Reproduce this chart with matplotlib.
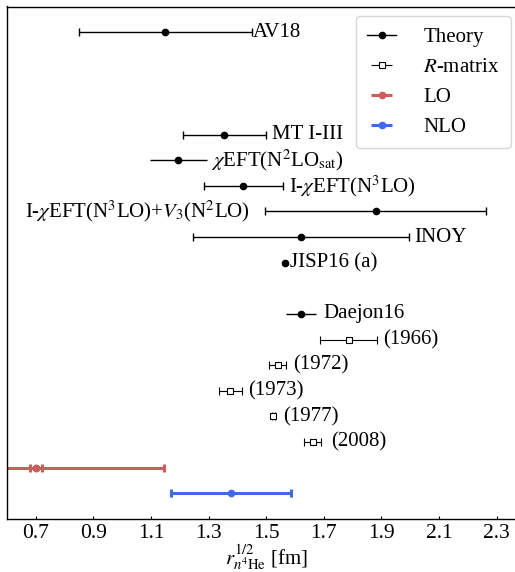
#!/usr/bin/env python3
"""Point-neutron radius of 4He: theory, R-matrix and EFT results."""

import matplotlib as mpl
import matplotlib.pyplot as plt
from matplotlib.lines import Line2D

# theory values with capped error bars
theory_labels = ["AV18", "MT I-III", r"I-$\chi$EFT(N$^3$LO)",
                 r"I-$\chi$EFT(N$^3$LO)+$V_3$(N$^2$LO)", "INOY"]
theory_rows = [0, 4, 6, 7, 8]
theory_vals = [1.15, 1.355, 1.42, 1.88, 1.62]
theory_errs = [0.30, 0.145, 0.137, 0.385, 0.375]
theory_text_x = [1.452, 1.522, 1.578, 1.443, 2.016]
theory_ha = ["left", "left", "left", "right", "left"]

# theory values drawn without caps
plain_labels = [r"$\chi$EFT(N$^2$LO$_{\rm sat}$)", "Daejon16"]
plain_rows = [5, 11]
plain_vals = [1.195, 1.62]
plain_errs = [0.098, 0.052]
plain_text_x = [1.307, 1.70]

# single point, no error
jisp_label = "JISP16 (a)"
jisp_row = 9
jisp_val = 1.565
jisp_text_x = 1.584

# R-matrix analyses
rmat_labels = ["(1966)", "(1972)", "(1973)", "(1977)", "(2008)"]
rmat_rows = [12, 13, 14, 15, 16]
rmat_vals = [1.787, 1.54, 1.376, 1.525, 1.661]
rmat_errs = [0.099, 0.029, 0.040, 0.004, 0.030]
rmat_text_x = [1.905, 1.592, 1.436, 1.558, 1.724]

# pionless EFT
lo_row, lo_val = 17, 0.70
lo_err_small = 0.021
lo_err_low, lo_err_high = 0.25, 0.445
nlo_row, nlo_val = 18, 1.378
nlo_err = 0.21

LO_COLOR = "#CD5C5C"
NLO_COLOR = "#4169E1"


def configure() -> None:
    mpl.rcParams.update({
        "font.family": "serif",
        "font.serif": ["Liberation Serif", "DejaVu Serif"],
        "mathtext.fontset": "stix",
        "font.size": 15,
        "xtick.direction": "in",
        "xtick.labelsize": 15.5,
        "xtick.major.size": 2,
        "axes.linewidth": 1.0,
    })


def main() -> None:
    configure()
    fig = plt.figure(figsize=(5.15, 5.72), dpi=100)
    ax = fig.add_axes([7 / 515, 1 - 519 / 572, 1.02 - 7 / 515, 512.5 / 572])

    ax.errorbar(theory_vals, theory_rows, xerr=theory_errs, fmt="o", color="black",
                ms=4.5, lw=1.0, elinewidth=1.0, capsize=3, capthick=1.0)
    ax.errorbar(plain_vals, plain_rows, xerr=plain_errs, fmt="o", color="black",
                ms=4.5, lw=1.0, elinewidth=1.0, capsize=0)
    ax.plot([jisp_val], [jisp_row], "o", color="black", ms=4.5)
    ax.errorbar(rmat_vals, rmat_rows, xerr=rmat_errs, fmt="s", color="black",
                mfc="white", ms=4.5, mew=0.8, elinewidth=0.8, capsize=3, capthick=0.8)

    ax.errorbar([lo_val], [lo_row], xerr=[[lo_err_low], [lo_err_high]], fmt="o",
                color=LO_COLOR, ms=4.5, elinewidth=2.2, capsize=3, capthick=2.2)
    ax.errorbar([lo_val], [lo_row], xerr=lo_err_small, fmt="o",
                color=LO_COLOR, ms=4.5, elinewidth=2.2, capsize=3, capthick=2.2)
    ax.errorbar([nlo_val], [nlo_row], xerr=nlo_err, fmt="o",
                color=NLO_COLOR, ms=4.5, elinewidth=2.2, capsize=3, capthick=2.2)

    for lab, row, x, ha in zip(theory_labels, theory_rows, theory_text_x, theory_ha):
        ax.text(x, row, lab, ha=ha, va="center")
    for lab, row, x in zip(plain_labels, plain_rows, plain_text_x):
        ax.text(x, row, lab, ha="left", va="center")
    ax.text(jisp_text_x, jisp_row, jisp_label, ha="left", va="center")
    for lab, row, x in zip(rmat_labels, rmat_rows, rmat_text_x):
        ax.text(x, row, lab, ha="left", va="center")

    handles = [
        Line2D([], [], color="black", marker="o", ms=4.5, lw=1.0),
        ax.errorbar([], [], xerr=[], fmt="s", color="black", mfc="white", ms=4.5,
                    mew=0.8, elinewidth=0.8, capsize=3, capthick=0.8),
        ax.errorbar([], [], xerr=[], fmt="o", color=LO_COLOR, ms=4.5,
                    elinewidth=2.2, capsize=3, capthick=2.2),
        ax.errorbar([], [], xerr=[], fmt="o", color=NLO_COLOR, ms=4.5,
                    elinewidth=2.2, capsize=3, capthick=2.2),
    ]
    ax.legend(handles, ["Theory", r"$R$-matrix", "LO", "NLO"],
              loc="upper right", bbox_to_anchor=(511 / 515, 1 - 16 / 572),
              bbox_transform=fig.transFigure, borderaxespad=0,
              handlelength=1.4, handletextpad=1.3, borderpad=0.55)

    ax.set_xlim(0.6, 2.4)
    ax.set_ylim(19, -1)
    ax.set_xticks([0.7, 0.9, 1.1, 1.3, 1.5, 1.7, 1.9, 2.1, 2.3])
    ax.set_yticks([])
    ax.set_xlabel(r"$r_{n^4\mathrm{He}}^{1/2}$ [fm]", labelpad=0)

    fig.savefig("out.png", dpi=100, facecolor="white")


if __name__ == "__main__":
    main()
